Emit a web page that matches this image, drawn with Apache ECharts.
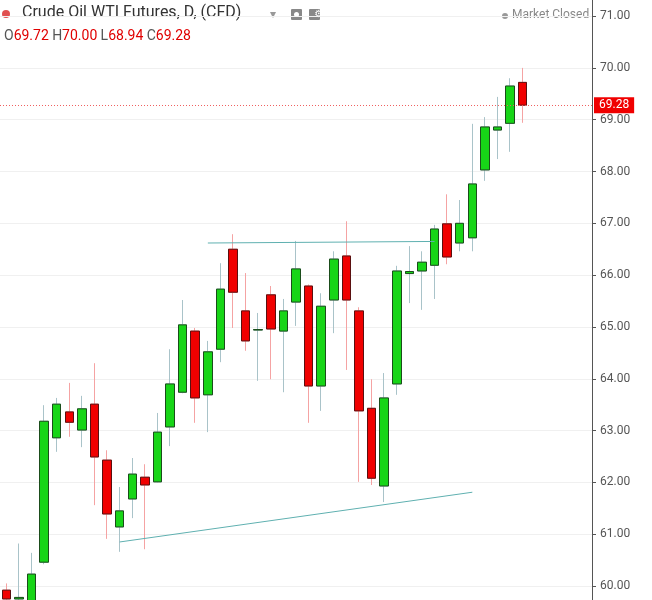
<!DOCTYPE html>
<html><head><meta charset="utf-8">
<script src="https://cdn.jsdelivr.net/npm/echarts@6/dist/echarts.min.js"></script>
<style>html,body{margin:0;padding:0;background:#fff}#c{width:652px;height:600px}</style>
</head><body><div id="c"></div>
<script>
// [open, close, low, high]
const ohlc = [
 [59.92,59.75,59.60,60.05],[59.75,59.78,59.60,60.82],[59.70,60.23,59.60,60.64],[60.46,63.18,60.42,63.49],
 [62.86,63.51,62.59,63.63],[63.36,63.16,62.88,63.92],[63.01,63.42,62.68,63.67],[63.51,62.49,61.56,64.30],
 [62.43,61.39,60.91,62.62],[61.14,61.45,60.66,61.91],[61.68,62.16,61.31,62.47],[62.10,61.95,60.71,62.35],
 [62.01,62.97,62.00,63.34],[63.07,63.90,62.70,64.57],[63.74,65.04,63.72,65.52],[64.92,63.63,63.15,64.98],
 [63.69,64.52,62.97,64.73],[64.57,65.73,64.32,66.23],[66.50,65.67,64.98,66.79],[65.31,64.73,64.54,66.04],
 [64.94,64.95,63.96,65.27],[65.62,64.96,63.99,65.79],[64.92,65.31,63.74,65.54],[65.48,66.12,65.02,66.66],
 [65.79,63.86,63.15,65.82],[63.86,65.40,63.38,65.65],[65.52,66.31,64.88,66.46],[66.37,65.52,64.17,67.04],
 [65.31,63.38,62.01,65.38],[63.43,62.08,61.95,63.99],[61.93,63.63,61.62,64.11],[63.90,66.08,63.69,66.18],
 [66.03,66.07,65.46,66.56],[66.08,66.25,65.33,66.46],[66.19,66.89,65.54,66.97],[66.99,66.35,66.21,67.56],
 [66.62,67.00,66.46,67.45],[66.72,67.76,66.46,68.92],[68.03,68.86,67.82,69.05],[68.80,68.86,68.24,69.44],
 [68.93,69.65,68.38,69.80],[69.72,69.28,68.94,70.00]
];
const emptySlots = 5;
const lastPrice = 69.28;
const yTicks = [60,61,62,63,64,65,66,67,68,69,70,71];
const upperTrend = [[16,66.62],[34,66.65]];
const lowerTrend = [[9,60.85],[37,61.81]];

const cats = [];
for (let i=0;i<ohlc.length+emptySlots;i++) cats.push(String(i));
const wickData = ohlc.map(d=>d).concat(Array(emptySlots).fill('-'));
const bodyData = ohlc.map(d=>[d[0],d[1],Math.min(d[0],d[1]),Math.max(d[0],d[1])]).concat(Array(emptySlots).fill('-'));

const chart = echarts.init(document.getElementById('c'));
chart.setOption({
  animation:false,
  grid:{left:-2,right:60,top:0,bottom:0},
  xAxis:{type:'category',data:cats,boundaryGap:true,axisLine:{show:false},axisTick:{show:false},axisLabel:{show:false},splitLine:{show:false}},
  yAxis:{type:'value',position:'right',min:59.73,max:71.31,
    axisLine:{show:true,lineStyle:{color:'#555'}},
    axisTick:{show:true,length:4,lineStyle:{color:'#555'},customValues:yTicks},
    axisLabel:{color:'#555',fontSize:12,fontFamily:'Roboto',margin:8,customValues:yTicks,formatter:v=>v.toFixed(2)},
    splitLine:{show:true,lineStyle:{color:'#f0f0f0'}}},
  series:[
    {type:'candlestick',data:wickData,barWidth:9,
     itemStyle:{color:'#17d517',color0:'#f00000',borderColor:'#a9c3c9',borderColor0:'#f5a3a3',borderWidth:1},
     markLine:{symbol:'none',silent:true,data:[
       [{coord:[String(upperTrend[0][0]),upperTrend[0][1]]},{coord:[String(upperTrend[1][0]),upperTrend[1][1]]}],
       [{coord:[String(lowerTrend[0][0]),lowerTrend[0][1]]},{coord:[String(lowerTrend[1][0]),lowerTrend[1][1]]}]
     ],lineStyle:{color:'#5fb0b0',type:'solid',width:1},label:{show:false}}},
    {type:'candlestick',data:bodyData,barWidth:9,
     itemStyle:{color:'#17d517',color0:'#f00000',borderColor:'#1b4d1b',borderColor0:'#5a1010',borderWidth:1},
     markLine:{symbol:'none',silent:true,data:[{yAxis:lastPrice}],
       lineStyle:{color:'#f06060',type:[1,2],width:1},
       label:{show:true,position:'end',formatter:lastPrice.toFixed(2),color:'#fff',backgroundColor:'#f00000',padding:[2,5],fontSize:12,fontFamily:'Roboto',distance:2}}}
  ],
  graphic:[
    {type:'circle',shape:{cx:6,cy:14,r:4},style:{fill:'#e05050'}},
    {type:'text',left:22,top:5,style:{text:'Crude Oil WTI Futures, D, (CFD)',fill:'#333',font:'16px Roboto'}},
    {type:'text',left:270,top:9,style:{text:'▾',fill:'#999',font:'12px DejaVu Sans'}},
    {type:'rect',shape:{x:291,y:9,width:11,height:11,r:1},style:{fill:'#888'}},
    {type:'circle',shape:{cx:296.5,cy:14.5,r:2.5},style:{fill:'#fff'}},
    {type:'rect',shape:{x:309,y:9,width:11,height:11,r:1},style:{fill:'#888'}},
    {type:'text',left:314.5,top:9,style:{text:'⚙',fill:'#fff',font:'10px DejaVu Sans',align:'center'}},
    {type:'text',left:4,top:29,style:{rich:{l:{fill:'#555',font:'14px Roboto'},v:{fill:'#e00000',font:'14px Roboto'}},
      text:'{l|O}{v|69.72} {l|H}{v|70.00} {l|L}{v|68.94} {l|C}{v|69.28}'}},
    {type:'circle',shape:{cx:505,cy:16,r:3},style:{fill:'#999'}},
    {type:'text',left:512,top:9,style:{text:'Market Closed',fill:'#888',font:'12px Roboto'}}
  ]
});
</script></body></html>
